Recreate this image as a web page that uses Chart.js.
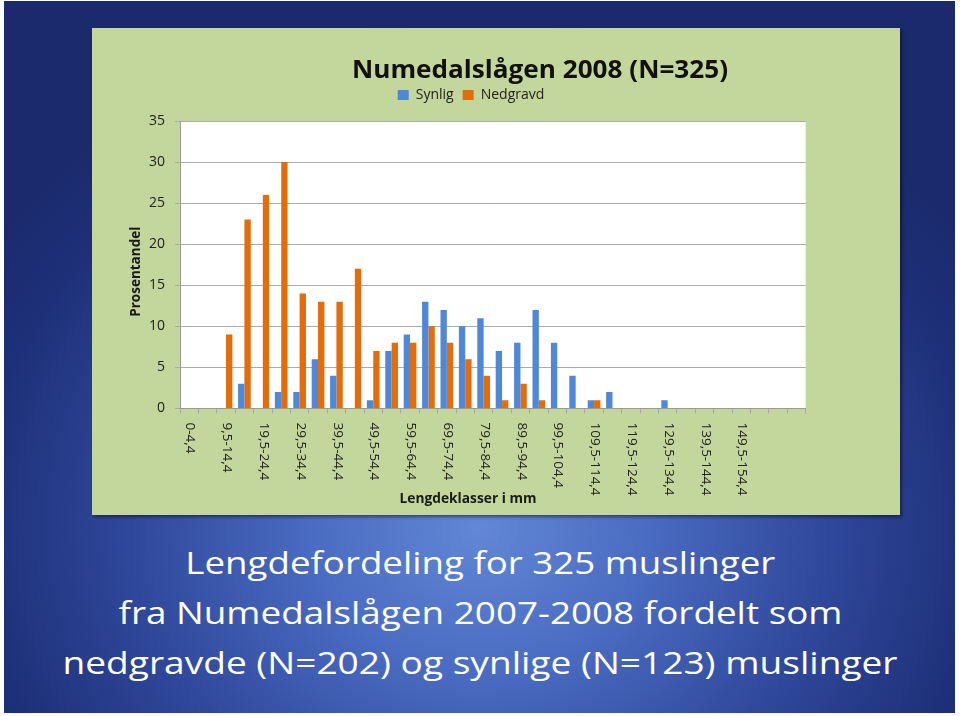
<!DOCTYPE html>
<html><head><meta charset="utf-8">
<script src="https://cdn.jsdelivr.net/npm/chart.js@4.4.0/dist/chart.umd.min.js"></script>
<style>
html,body{margin:0;padding:0;width:960px;height:716px;background:#fff;overflow:hidden;}
#slide{position:absolute;left:4px;top:1px;width:951px;height:712px;
 background:radial-gradient(ellipse 62% 72% at 50% 74%, #6287d6 0%, #4a6cc2 28%, #30499c 58%, #1e3079 85%, #1a2a6c 100%);}
#panel{position:absolute;left:92px;top:28px;width:808px;height:487px;background:#c3d69b;box-shadow:2px 2px 3px rgba(0,0,0,0.45);}
canvas{display:block}
.line{position:absolute;left:0;width:960px;text-align:center;color:#fff;font-family:'Open Sans',sans-serif;font-size:31px;line-height:1;white-space:nowrap}
.line span{display:inline-block;transform-origin:50% 50%}
</style></head><body>
<div id="slide"></div>
<div id="panel"><canvas id="c" width="808" height="487"></canvas></div>
<div class="line" style="top:547px"><span data-w="590">Lengdefordeling for 325 muslinger</span></div>
<div class="line" style="top:597px"><span data-w="724">fra Numedalslågen 2007-2008 fordelt som</span></div>
<div class="line" style="top:647px"><span data-w="835">nedgravde (N=202) og synlige (N=123) muslinger</span></div>
<script>
const chartTitle = 'Numedalslågen 2008 (N=325)';
const yTitle = 'Prosentandel';
const xTitle = 'Lengdeklasser i mm';
const seriesNames = ['Synlig', 'Nedgravd'];
const categories = ['0-4,4','4,5-9,4','9,5-14,4','14,5-19,4','19,5-24,4','24,5-29,4','29,5-34,4','34,5-39,4',
 '39,5-44,4','44,5-49,4','49,5-54,4','54,5-59,4','59,5-64,4','64,5-69,4','69,5-74,4','74,5-79,4',
 '79,5-84,4','84,5-89,4','89,5-94,4','94,5-99,4','99,5-104,4','104,5-109,4','109,5-114,4','114,5-119,4',
 '119,5-124,4','124,5-129,4','129,5-134,4','134,5-139,4','139,5-144,4','144,5-149,4','149,5-154,4','','',''];
const synlig   = [0,0,0,3,0,2,2,6,4,0,1,7,9,13,12,10,11,7,8,12,8,4,1,2,0,0,1,0,0,0,0,0,0,0];
const nedgravd = [0,0,9,23,26,30,14,13,13,17,7,8,8,10,8,6,4,1,3,1,0,0,1,0,0,0,0,0,0,0,0,0,0,0];
const yMin = 0, yMax = 35, yStep = 5;

const FONT = "'Open Sans', sans-serif";

function fitText(ctx, text, cx, cy, targetW, font, rot) {
  ctx.save();
  ctx.font = font;
  const w = ctx.measureText(text).width;
  ctx.translate(cx, cy);
  if (rot) ctx.rotate(rot);
  ctx.scale(targetW / w, 1);
  ctx.textAlign = 'center';
  ctx.fillText(text, 0, 0);
  ctx.restore();
}

const deco = {
  id: 'deco',
  beforeDraw(chart) {
    const {ctx, chartArea: a} = chart;
    ctx.save();
    ctx.fillStyle = '#ffffff';
    ctx.fillRect(a.left, a.top, a.right - a.left, a.bottom - a.top);
    ctx.restore();
  },
  afterDraw(chart) {
    const {ctx, chartArea: a} = chart;
    const xs = chart.scales.x;
    ctx.save();
    ctx.fillStyle = '#111';
    ctx.textBaseline = 'alphabetic';
    fitText(ctx, chartTitle, 448, 50, 376, "bold 25px " + FONT);
    ctx.fillStyle = '#1a1a1a';
    fitText(ctx, xTitle, 376, 475, 137, "bold 14px " + FONT);
    ctx.save();
    ctx.font = "bold 13.5px " + FONT;
    ctx.translate(44, (a.top + a.bottom) / 2 + 7);
    ctx.rotate(-Math.PI / 2);
    ctx.textAlign = 'center';
    ctx.textBaseline = 'middle';
    ctx.fillText(yTitle, 0, 0);
    ctx.restore();
    ctx.font = "13.5px " + FONT;
    ctx.fillStyle = '#222';
    ctx.textAlign = 'left';
    ctx.textBaseline = 'middle';
    categories.forEach((lab, i) => {
      if (i % 2 !== 0 || !lab) return;
      const x = xs.getPixelForValue(i);
      ctx.save();
      ctx.translate(x + 1, a.bottom + 14);
      ctx.rotate(Math.PI / 2);
      ctx.fillText(lab, 0, 0);
      ctx.restore();
    });
    ctx.restore();
  }
};

new Chart(document.getElementById('c'), {
  type: 'bar',
  data: {
    labels: categories,
    datasets: [
      {label: seriesNames[0], data: synlig, backgroundColor: '#4f88d8', borderWidth: 0},
      {label: seriesNames[1], data: nedgravd, backgroundColor: '#e46c0a', borderWidth: 0}
    ]
  },
  options: {
    responsive: false,
    animation: false,
    devicePixelRatio: 1,
    layout: {padding: {left: 44.3, right: 94.3, top: 51, bottom: 0}},
    datasets: {bar: {categoryPercentage: 0.69, barPercentage: 1.0}},
    plugins: {
      title: {display: false},
      legend: {
        display: true, position: 'top',
        labels: {boxWidth: 11, boxHeight: 10, padding: 9, color: '#222', font: {family: FONT, size: 14}}
      },
      subtitle: {display: true, text: ' ', weight: 500, font: {size: 1, lineHeight: 1}, padding: {top: 0, bottom: 8}},
      tooltip: {enabled: false}
    },
    scales: {
      x: {
        ticks: {display: false},
        grid: {display: true, drawOnChartArea: false, drawTicks: true, tickLength: 5, color: '#a8a8a8', offset: true},
        border: {display: true, color: '#9a9a9a'},
        afterFit(s) { s.height = 106.5; }
      },
      y: {
        min: yMin, max: yMax,
        ticks: {stepSize: yStep, padding: 10, color: '#222', font: {family: FONT, size: 14}},
        grid: {color: '#ababab', tickLength: 5},
        border: {display: true, color: '#9a9a9a'},
        afterFit(s) { s.width = 43.7; }
      }
    }
  },
  plugins: [deco]
});

document.querySelectorAll('.line span').forEach(sp => {
  const w = sp.getBoundingClientRect().width;
  sp.style.transform = 'scaleX(' + (parseFloat(sp.dataset.w) / w) + ')';
});
</script>
</body></html>
